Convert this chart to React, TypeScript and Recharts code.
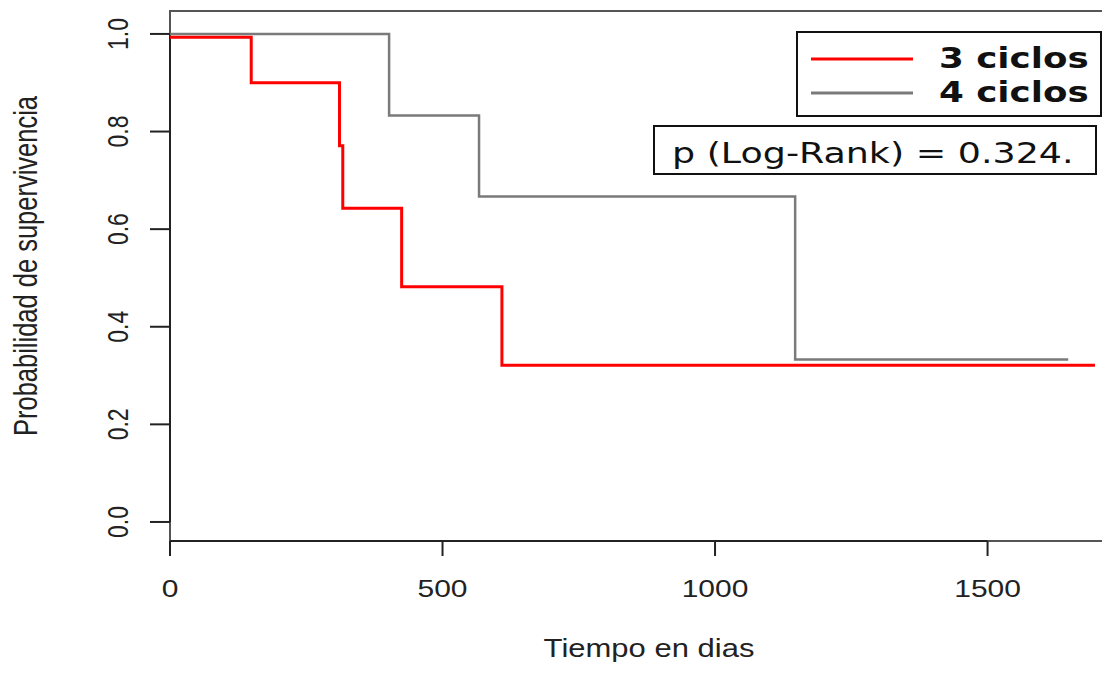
import React from 'react';
import {
  LineChart,
  Line,
  XAxis,
  YAxis,
  ReferenceLine,
  ReferenceArea,
  Customized,
} from 'recharts';

// Kaplan-Meier step data (time in days, survival probability)
const tresTimes = [0, 149, 311, 317, 425, 609, 1697];
const tresSurv = [0.993, 0.9, 0.771, 0.643, 0.482, 0.321, 0.321];
const cuatroTimes = [0, 402, 567, 1147, 1648];
const cuatroSurv = [1.0, 0.833, 0.667, 0.333, 0.333];

const xTicks = [0, 500, 1000, 1500];
const yTicks = [0, 0.2, 0.4, 0.6, 0.8, 1.0];
const seriesNames = ['3 ciclos', '4 ciclos'];
const seriesColors = ['#ff0000', '#7a7a7a'];
const pText = 'p (Log-Rank) = 0.324.';
const xTitle = 'Tiempo en dias';
const yTitle = 'Probabilidad de supervivencia';

const X_DOMAIN: [number, number] = [0, 1743];
const Y_DOMAIN: [number, number] = [-0.039, 1.047];

const tresData = tresTimes.map((t, i) => ({ t, s: tresSurv[i] }));
const cuatroData = cuatroTimes.map((t, i) => ({ t, s: cuatroSurv[i] }));

const AXIS_FONT = '"Liberation Sans", Arial, sans-serif';
const LEG_FONT = '"DejaVu Sans", Verdana, sans-serif';
const TEXT_COLOR = '#222';

const XTick = (props: any) => {
  const { x, y, payload } = props;
  return (
    <text
      transform={`translate(${x},${y + 39}) scale(1.25,1)`}
      textAnchor="middle"
      fontFamily={AXIS_FONT}
      fontSize={24}
      fill={TEXT_COLOR}
    >
      {String(payload.value)}
    </text>
  );
};

const YTick = (props: any) => {
  const { y, payload } = props;
  return (
    <text
      transform={`translate(128,${y}) rotate(-90) scale(1,1.25)`}
      textAnchor="middle"
      fontFamily={AXIS_FONT}
      fontSize={23}
      fill={TEXT_COLOR}
    >
      {Number(payload.value).toFixed(1)}
    </text>
  );
};

const Overlay = () => (
  <g>
    {/* axis titles */}
    <text
      transform="translate(649,657) scale(1.24,1)"
      textAnchor="middle"
      fontFamily={AXIS_FONT}
      fontSize={25}
      fill={TEXT_COLOR}
    >
      {xTitle}
    </text>
    <text
      transform="translate(37,266) rotate(-90) scale(1,1.3)"
      textAnchor="middle"
      fontFamily={AXIS_FONT}
      fontSize={25.5}
      fill={TEXT_COLOR}
    >
      {yTitle}
    </text>
    {/* legend */}
    <rect x={797} y={32} width={304} height={84} fill="#fff" stroke="#111" strokeWidth={2} />
    {seriesNames.map((name, i) => (
      <g key={name}>
        <line
          x1={811}
          x2={913}
          y1={59 + i * 34}
          y2={59 + i * 34}
          stroke={seriesColors[i]}
          strokeWidth={3}
        />
        <text
          transform={`translate(939,${68 + i * 34}) scale(1.23,1)`}
          fontFamily={LEG_FONT}
          fontWeight="bold"
          fontSize={29}
          fill="#111"
        >
          {name}
        </text>
      </g>
    ))}
    {/* p-value box */}
    <rect x={654} y={126} width={442} height={48} fill="#fff" stroke="#111" strokeWidth={2} />
    <text
      transform="translate(672,163) scale(1.3,1)"
      fontFamily={LEG_FONT}
      fontSize={28}
      fill="#111"
    >
      {pText}
    </text>
  </g>
);

export default function App() {
  return (
    <div
      style={{
        position: 'absolute',
        left: 0,
        top: 0,
        width: 1102,
        height: 673,
        overflow: 'hidden',
        background: '#fff',
      }}
    >
      <LineChart
        width={1140}
        height={673}
        margin={{ top: 11, right: 20, bottom: 72, left: 0 }}
      >
        <XAxis
          dataKey="t"
          type="number"
          domain={X_DOMAIN}
          ticks={xTicks}
          height={60}
          axisLine={false}
          tickSize={15}
          tickLine={{ stroke: '#222', strokeWidth: 2 }}
          tick={<XTick />}
          interval={0}
        />
        <YAxis
          type="number"
          domain={Y_DOMAIN}
          ticks={yTicks}
          width={170}
          axisLine={false}
          tickSize={20}
          tickLine={{ stroke: '#222', strokeWidth: 2 }}
          tick={<YTick />}
          interval={0}
        />
        <ReferenceArea
          x1={X_DOMAIN[0]}
          x2={X_DOMAIN[1]}
          y1={Y_DOMAIN[0]}
          y2={Y_DOMAIN[1]}
          fill="none"
          fillOpacity={0}
          stroke="#555"
          strokeWidth={2}
          ifOverflow="visible"
        />
        <ReferenceLine
          segment={[
            { x: 0, y: Y_DOMAIN[0] },
            { x: 1500, y: Y_DOMAIN[0] },
          ]}
          stroke="#222"
          strokeWidth={2}
          ifOverflow="visible"
        />
        <ReferenceLine
          segment={[
            { x: 0, y: 0 },
            { x: 0, y: 1 },
          ]}
          stroke="#222"
          strokeWidth={2}
          ifOverflow="visible"
        />
        <Line
          data={cuatroData}
          dataKey="s"
          name={seriesNames[1]}
          type="stepAfter"
          stroke={seriesColors[1]}
          strokeWidth={2.5}
          dot={false}
          isAnimationActive={false}
        />
        <Line
          data={tresData}
          dataKey="s"
          name={seriesNames[0]}
          type="stepAfter"
          stroke={seriesColors[0]}
          strokeWidth={3}
          dot={false}
          isAnimationActive={false}
        />
        <Customized component={Overlay} />
      </LineChart>
    </div>
  );
}
